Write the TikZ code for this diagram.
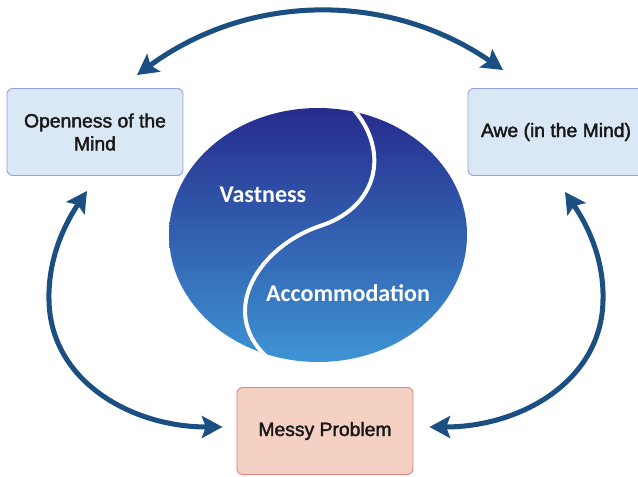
\documentclass[tikz,border=0pt]{standalone}
\usepackage{fontspec}
\setmainfont{Liberation Sans}
\newfontfamily\carlito{Carlito}
\newfontfamily\boxfont[FakeBold=2]{Liberation Sans}
\usetikzlibrary{arrows.meta}
\definecolor{boxblue}{RGB}{218,232,246}
\definecolor{boxline}{RGB}{150,160,218}
\definecolor{boxred}{RGB}{245,209,195}
\definecolor{redline}{RGB}{228,132,120}
\definecolor{arcblue}{RGB}{27,79,130}
\definecolor{mindtop}{RGB}{38,44,140}
\definecolor{mindmid}{RGB}{46,96,172}
\definecolor{mindbot}{RGB}{62,148,212}

\begin{document}
\begin{tikzpicture}[x=0.03cm, y=-0.03cm,
    box/.style={draw=boxline, fill=boxblue, rounded corners=5pt, line width=0.8pt,
        minimum width=5.28cm, minimum height=2.61cm, align=center, text=black!90,
        font=\boxfont\fontsize{16.5}{19.5}\selectfont},
    redbox/.style={box, draw=redline, fill=boxred},
    inner/.style={text=white, font=\carlito\bfseries\fontsize{20.5}{24}\selectfont},
    arc/.style={draw=arcblue, line width=4.3pt,
        arrows={Stealth[length=0.62cm, width=0.66cm, inset=0.12cm]-Stealth[length=0.62cm, width=0.66cm, inset=0.12cm]}}
  ]
    \useasboundingbox (0,0) rectangle (638,477);

    \node[box] (open) at (95,132) {Openness of the\\Mind};
    \node[box] (awe) at (556,132) {Awe (in the Mind)};
    \node[redbox] (messy) at (325,431) {Messy Problem};

    \shade[top color=mindtop, middle color=mindmid, bottom color=mindbot]
        (318,235) ellipse [x radius=149, y radius=127];
    \begin{scope}
      \clip (318,235) ellipse [x radius=149, y radius=127];
      \draw[white, line width=3.4pt] (344,100) .. controls (390,140) and (385,205) .. (320,226)
          .. controls (255,248) and (212,320) .. (278,366);
    \end{scope}
    \node[inner] (vast) at (263,195) {Vastness};
    \node[inner] (acc) at (348,293) {Accommodation};

    \draw[arc] ([shift={(42,-13)}]open.north) .. controls (250,-8) and (390,-8) .. ([shift={(-53,-18)}]awe.north);
    \draw[arc] ([shift={(-8,15)}]open.south) .. controls (62,228) and (48,262) .. (49,300)
        .. controls (50,380) and (130,427) .. ([shift={(-14,-4)}]messy.west);
    \draw[arc] ([shift={(9,16)}]awe.south) .. controls (590,229) and (604,262) .. (603,300)
        .. controls (602,380) and (522,427) .. ([shift={(16,-4)}]messy.east);
\end{tikzpicture}
\end{document}
